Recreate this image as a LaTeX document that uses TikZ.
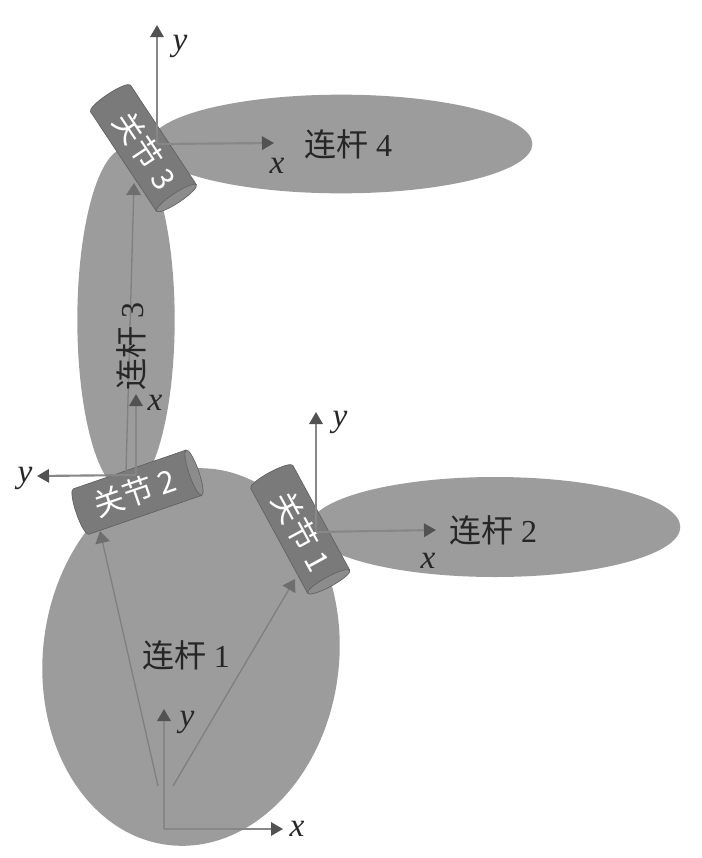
\documentclass[tikz,border=0pt]{standalone}
\usepackage{fontspec}
\setmainfont{Liberation Serif}
\newfontfamily\cjk{Noto Sans CJK SC}
\usetikzlibrary{arrows.meta,shapes.geometric}
\tikzset{
    linkshape/.style={ellipse, fill=black!39, inner sep=0pt},
    linklabel/.style={font=\fontsize{24}{26}\selectfont, text=black!85},
    jointshape/.style={cylinder, draw=black!62, line width=0.5pt, cylinder uses custom fill,
        cylinder body fill=black!52, cylinder end fill=black!45, shape aspect=0.35,
        minimum height=97pt, minimum width=36pt, inner sep=0pt, text=white,
        font=\cjk\fontsize{23}{25}\selectfont},
    axisarrow/.style={-{Triangle[length=9pt, width=10pt, color=black!68]}, draw=black!47, line width=1.6pt},
    linkarrow/.style={-{Triangle[length=9pt, width=11pt, color=black!57]}, draw=black!50, line width=1pt},
    axislabel/.style={font=\fontsize{25}{27}\selectfont\itshape, text=black!85}
}
\begin{document}
\begin{tikzpicture}[x=0.75pt, y=-0.75pt]
\path[use as bounding box, fill=white] (0,0) rectangle (702,858);
\node[linkshape, minimum width=222pt, minimum height=284pt, rotate=-7] (link1) at (191,657) {};
\node[linkshape, minimum width=278pt, minimum height=75pt] (link2) at (495,527) {};
\node[linkshape, minimum width=73pt, minimum height=258pt] (link3) at (126,320) {};
\node[linkshape, minimum width=287pt, minimum height=74pt] (link4) at (341,144) {};
\node[jointshape, rotate=-61.5] (joint1) at (299,527) {\hspace*{8pt}关节 1};
\node[jointshape, rotate=19] (joint2) at (135,493) {关节 2};
\node[jointshape, rotate=-56.5] (joint3) at (142,146) {\hspace*{8pt}关节 3};
\coordinate (base) at (164,829);
\coordinate (basex) at (283,829);
\coordinate (basey) at (164,709);
\coordinate (org1) at (316,532);
\coordinate (org1x) at (436,530);
\coordinate (org1y) at (316,412);
\coordinate (org2) at (136,475);
\coordinate (org2x) at (136,394);
\coordinate (org2y) at (37,476);
\coordinate (org3) at (157,144);
\coordinate (org3x) at (274,143);
\coordinate (org3y) at (157,25);
\coordinate (vecastart) at (158,786);
\coordinate (vecaend) at (100,531);
\coordinate (vecbstart) at (173,786);
\coordinate (vecbend) at (295,579);
\coordinate (veccstart) at (126,472);
\coordinate (veccend) at (134,183);
\draw[axisarrow] (base) -- (basex);
\draw[axisarrow] (base) -- (basey);
\draw[axisarrow] (org1) -- (org1x);
\draw[axisarrow] (org1) -- (org1y);
\draw[axisarrow] (org2) -- (org2x);
\draw[axisarrow] (org2) -- (org2y);
\draw[axisarrow] (org3) -- (org3x);
\draw[axisarrow] (org3) -- (org3y);
\draw[linkarrow] (vecastart) -- (vecaend);
\draw[linkarrow] (vecbstart) -- (vecbend);
\draw[linkarrow] (veccstart) -- (veccend);
\node[linklabel] (text1) at (186,655) {{\cjk 连杆} 1};
\node[linklabel] (text2) at (493,530) {{\cjk 连杆} 2};
\node[linklabel, rotate=90] (text3) at (131,346) {{\cjk 连杆} 3};
\node[linklabel] (text4) at (348,144) {{\cjk 连杆} 4};
\node[axislabel] (labelbx) at (297,829) {x};
\node[axislabel] (labelby) at (187,722) {y};
\node[axislabel] (label1x) at (428,561) {x};
\node[axislabel] (label1y) at (340,422) {y};
\node[axislabel] (label2x) at (155,403) {x};
\node[axislabel] (label2y) at (25,478) {y};
\node[axislabel] (label3x) at (277,166) {x};
\node[axislabel] (label3y) at (180,46) {y};
\end{tikzpicture}
\end{document}
